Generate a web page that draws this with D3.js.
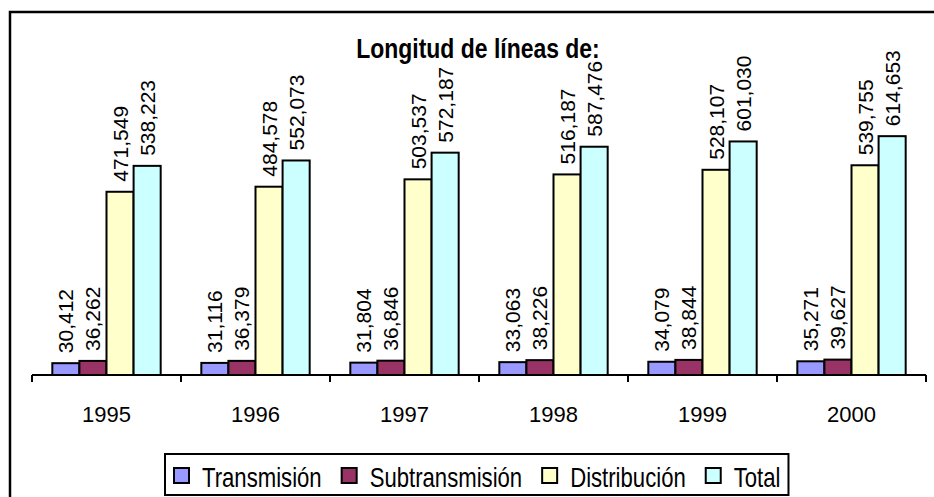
<!DOCTYPE html>
<html>
<head>
<meta charset="utf-8">
<script src="https://cdn.jsdelivr.net/npm/d3@7"></script>
<style>
	body { margin: 0; background: #fff; }
	svg { display: block; }
</style>
</head>
<body>
<div id="main_chart"></div>
<script>
var years = ["1995", "1996", "1997", "1998", "1999", "2000"];
var seriesNames = ["Transmisión", "Subtransmisión", "Distribución", "Total"];
var transmision = [30412, 31116, 31804, 33063, 34079, 35271];
var subtransmision = [36262, 36379, 36846, 38226, 38844, 39627];
var distribucion = [471549, 484578, 503537, 516187, 528107, 539755];
var total = [538223, 552073, 572187, 587476, 601030, 614653];
var colors = ["#9999FF", "#993366", "#FFFFCC", "#CCFFFF"];

document.addEventListener("DOMContentLoaded", function (e) {
	var width = 934,
		height = 497;
	var font = "'Liberation Sans', Arial, sans-serif";
	var narrow = 0.82; // squeeze factor to fake Arial Narrow

	var allSeries = [transmision, subtransmision, distribucion, total];
	var rows = years.map(function (y, i) {
		return {
			year: y,
			values: allSeries.map(function (s, k) {
				return { name: seriesNames[k], value: s[i], k: k };
			}),
		};
	});

	var svg = d3
		.select("#main_chart")
		.append("svg")
		.attr("width", width)
		.attr("height", height);

	// outer frame (right and bottom edges run off the picture)
	svg
		.append("rect")
		.attr("x", 10)
		.attr("y", 12)
		.attr("width", 980)
		.attr("height", 520)
		.attr("fill", "none")
		.attr("stroke", "#000")
		.attr("stroke-width", 2.5);

	var x0 = d3.scaleBand().domain(years).range([32, 926]).padding(0);
	var bw = x0.bandwidth() / 5.5; // gap width 150%
	var x1 = d3
		.scaleBand()
		.domain(seriesNames)
		.range([bw * 0.75, bw * 4.75])
		.padding(0);
	var y = d3.scaleLinear().domain([0, 700000]).range([375, 103]);

	var groups = svg
		.selectAll("g.year")
		.data(rows)
		.enter()
		.append("g")
		.attr("class", "year")
		.attr("transform", function (d) {
			return "translate(" + x0(d.year) + ",0)";
		});

	groups
		.selectAll("rect")
		.data(function (d) {
			return d.values;
		})
		.enter()
		.append("rect")
		.attr("x", function (d) {
			return x1(d.name);
		})
		.attr("y", function (d) {
			return y(d.value);
		})
		.attr("width", x1.bandwidth())
		.attr("height", function (d) {
			return y(0) - y(d.value);
		})
		.attr("fill", function (d) {
			return colors[d.k];
		})
		.attr("stroke", "#000")
		.attr("stroke-width", 2);

	// value labels, rotated
	groups
		.selectAll("text.lbl")
		.data(function (d) {
			return d.values;
		})
		.enter()
		.append("text")
		.attr("class", "lbl")
		.attr("transform", function (d) {
			var cx = x1(d.name) + x1.bandwidth() / 2 + 7.5;
			return "translate(" + cx + "," + (y(d.value) - 10) + ") rotate(-90)";
		})
		.style("font-family", font)
		.style("font-size", "21px")
		.attr("fill", "#000")
		.text(function (d) {
			return d3.format(",")(d.value);
		});

	// category axis
	var xAxis = d3.axisBottom(x0).tickSize(0).tickPadding(0);
	var axisG = svg.append("g").attr("transform", "translate(0,375)").call(xAxis);
	axisG.select(".domain").remove();
	axisG
		.selectAll(".tick text")
		.attr("y", 47)
		.attr("dy", 0)
		.style("font-family", font)
		.style("font-size", "22px")
		.attr("fill", "#000");
	axisG
		.append("line")
		.attr("x1", 32)
		.attr("x2", 926)
		.attr("y1", 0)
		.attr("y2", 0)
		.attr("stroke", "#000")
		.attr("stroke-width", 2);
	var bounds = years.map(function (yr) {
		return x0(yr);
	});
	bounds.push(x0.range()[1]);
	axisG
		.selectAll("line.tk")
		.data(bounds)
		.enter()
		.append("line")
		.attr("class", "tk")
		.attr("x1", function (d) {
			return d;
		})
		.attr("x2", function (d) {
			return d;
		})
		.attr("y1", 0)
		.attr("y2", 7)
		.attr("stroke", "#000")
		.attr("stroke-width", 2);

	// title (narrow look via horizontal squeeze)
	svg
		.append("g")
		.attr("transform", "translate(478,58) scale(" + narrow + ",1)")
		.append("text")
		.attr("text-anchor", "middle")
		.style("font-family", font)
		.style("font-weight", "bold")
		.style("font-size", "28px")
		.text("Longitud de líneas de:");

	// legend
	var legend = svg.append("g");
	var legendBox = legend
		.append("rect")
		.attr("x", 165)
		.attr("y", 454)
		.attr("height", 41)
		.attr("fill", "#fff")
		.attr("stroke", "#000")
		.attr("stroke-width", 2);
	var lx = 174;
	seriesNames.forEach(function (name, k) {
		legend
			.append("rect")
			.attr("x", lx)
			.attr("y", 468)
			.attr("width", 15)
			.attr("height", 15)
			.attr("fill", colors[k])
			.attr("stroke", "#000")
			.attr("stroke-width", 2);
		var t = legend
			.append("g")
			.attr("transform", "translate(" + (lx + 28) + ",487) scale(" + narrow + ",1)")
			.append("text")
			.style("font-family", font)
			.style("font-size", "27px")
			.text(name);
		var w = t.node().getComputedTextLength() * narrow;
		lx = lx + 28 + w + 20;
	});
	legendBox.attr("width", lx - 20 + 8 - 165);
});
</script>
</body>
</html>
